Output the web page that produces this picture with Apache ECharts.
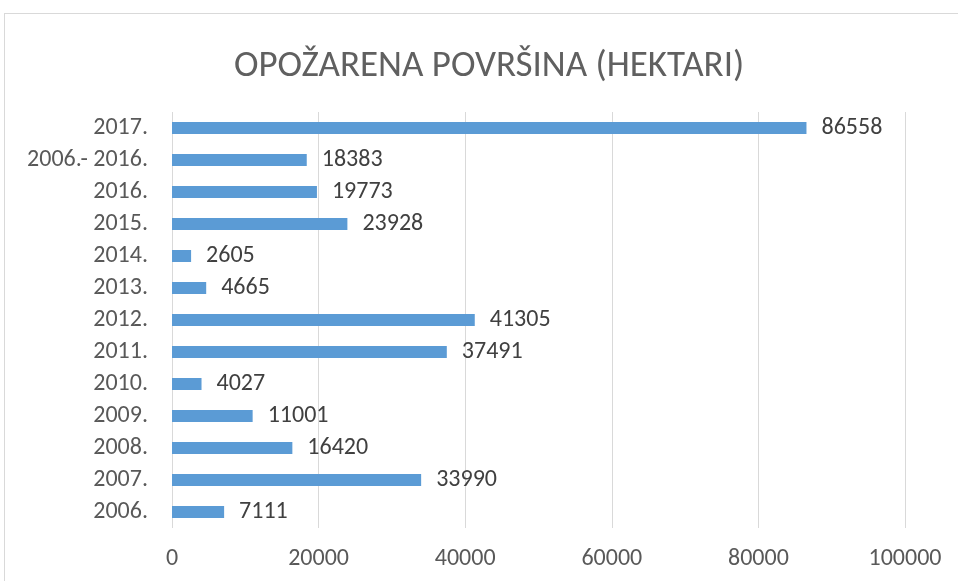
<!DOCTYPE html>
<html><head><meta charset="utf-8">
<script src="https://cdn.jsdelivr.net/npm/echarts@6/dist/echarts.min.js"></script>
<style>html,body{margin:0;padding:0;background:#fff}#c{width:958px;height:581px;position:relative}
#frame{position:absolute;left:4px;top:13px;width:980px;height:600px;border:1px solid #d9d9d9;box-sizing:border-box;pointer-events:none}</style>
</head><body><div id="c"></div><div id="frame"></div>
<script>
const categories = ['2006.', '2007.', '2008.', '2009.', '2010.', '2011.', '2012.', '2013.', '2014.', '2015.', '2016.', '2006.- 2016.', '2017.'];
const values = [7111, 33990, 16420, 11001, 4027, 37491, 41305, 4665, 2605, 23928, 19773, 18383, 86558];
const titleText = 'OPOŽARENA POVRŠINA (HEKTARI)';
const font = 'Carlito, Lato, "Open Sans", sans-serif';
const chart = echarts.init(document.getElementById('c'));
chart.setOption({
  animation: false,
  title: { text: titleText, left: 229, top: 43, textStyle: { fontFamily: font, fontWeight: 300, fontSize: 37, color: '#606060' } },
  grid: { left: 172, right: 53, top: 112, bottom: 53, containLabel: false },
  xAxis: { type: 'value', min: 0, max: 100000, interval: 20000,
    axisLine: { show: false }, axisTick: { show: false },
    splitLine: { lineStyle: { color: '#d9d9d9', width: 1 } },
    axisLabel: { fontFamily: font, fontSize: 24, color: '#595959', margin: 19, formatter: v => String(v) } },
  yAxis: { type: 'category', data: categories,
    axisLine: { show: false }, axisTick: { show: false },
    axisLabel: { fontFamily: font, fontSize: 24, color: '#595959', margin: 24 } },
  series: [{ type: 'bar', data: values, barWidth: 12, itemStyle: { color: '#5B9BD5' },
    label: { show: true, position: 'right', distance: 15, fontFamily: font, fontSize: 24, color: '#404040' } }]
});
</script></body></html>
